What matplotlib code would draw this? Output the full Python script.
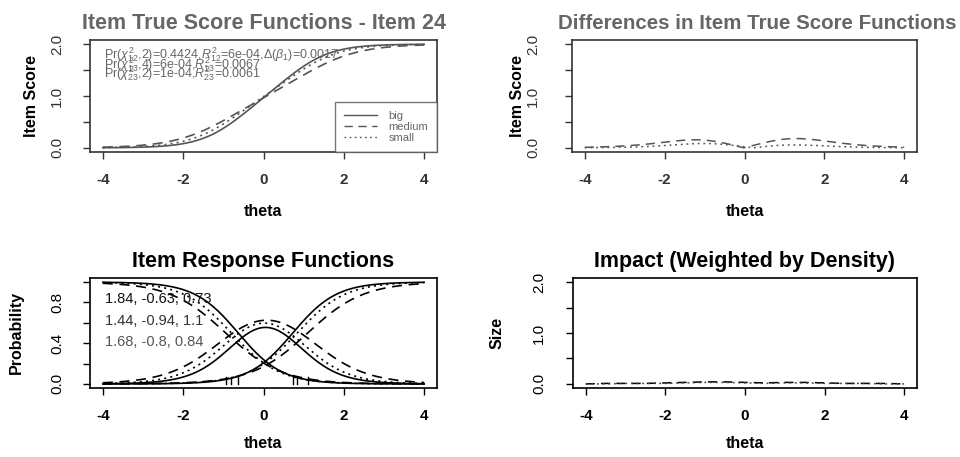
import numpy as np
import matplotlib
matplotlib.use("Agg")
import matplotlib.pyplot as plt

plt.rcParams['font.family'] = ['Liberation Sans', 'DejaVu Sans']
plt.rcParams['mathtext.fontset'] = 'custom'
plt.rcParams['mathtext.rm'] = 'Liberation Sans'
plt.rcParams['mathtext.it'] = 'Liberation Sans:italic'

# Graded response model parameters per group: slope, threshold 1, threshold 2
groups = ["big", "medium", "small"]
slopes = [1.84, 1.44, 1.68]
thresh1 = [-0.63, -0.94, -0.80]
thresh2 = [0.73, 1.10, 0.84]
param_labels = ["1.84, -0.63, 0.73", "1.44, -0.94, 1.1", "1.68, -0.8, 0.84"]

stat_lines = [
    r"Pr($\chi^2_{12}$,2)=0.4424,$R^2_{12}$=6e-04,$\Delta(\beta_1)$=0.0017",
    r"Pr($\chi^2_{13}$,4)=6e-04,$R^2_{13}$=0.0067",
    r"Pr($\chi^2_{23}$,2)=1e-04,$R^2_{23}$=0.0061",
]

# Impact (difference weighted by group density), medium and small vs big
impact_theta = [-4, -3.5, -3, -2.5, -2, -1.5, -1, -0.5, 0, 0.5, 1, 1.5, 2, 2.5, 3, 3.5, 4]
impact_medium = [0.00, 0.01, 0.01, 0.01, 0.02, 0.03, 0.04, 0.04, 0.03, 0.02, 0.03, 0.03, 0.02, 0.01, 0.01, 0.01, 0.00]
impact_small = [0.00, 0.00, 0.01, 0.01, 0.01, 0.02, 0.03, 0.03, 0.02, 0.01, 0.02, 0.02, 0.01, 0.01, 0.01, 0.00, 0.00]

theta = np.linspace(-4, 4, 401)
styles = ["-", (0, (6, 4)), (0, (1.2, 2.5))]


def cum_prob(a, b):
    return 1.0 / (1.0 + np.exp(-a * (theta - b)))


cats = []
true_scores = []
for a, b1, b2 in zip(slopes, thresh1, thresh2):
    p1 = cum_prob(a, b1)
    p2 = cum_prob(a, b2)
    cats.append((1 - p1, p1 - p2, p2))
    true_scores.append(p1 + p2)

W, H = 960, 457
PX2PT = 72 / 100
fig = plt.figure(figsize=(W / 100, H / 100), dpi=100)


def add_axes(l, t, r, b):
    return fig.add_axes([l / W, 1 - b / H, (r - l) / W, (b - t) / H])


def style_axes(ax, box, ylim, yticks, ylabels, ylabel, ylabel_x, ytick_x, xlabel_y, color="black"):
    l, t, r, b = box
    tick_len = 7
    ax.set_xlim(-4.32, 4.32)
    ax.set_ylim(*ylim)
    ax.set_xticks([-4, -2, 0, 2, 4])
    ax.set_xticklabels(["-4", "-2", "0", "2", "4"], fontsize=11, fontweight="bold")
    ax.set_yticks(yticks)
    ax.set_yticklabels(ylabels, fontsize=11, rotation=90, va="center", ha="center", color=color)
    ax.tick_params(axis="x", direction="out", length=tick_len * PX2PT, width=1.0, colors=color,
                   pad=14 * PX2PT)
    ax.tick_params(axis="y", direction="out", length=tick_len * PX2PT, width=1.0, colors=color,
                   pad=((l - ytick_x) - tick_len) * PX2PT)
    for s in ax.spines.values():
        s.set_linewidth(1.2)
        s.set_color(color)
    ax.set_xlabel("theta", fontsize=11.5, fontweight="bold", va="center")
    ax.xaxis.set_label_coords(0.5, -(xlabel_y - b) / (b - t))
    ax.set_ylabel(ylabel, fontsize=11.5, fontweight="bold", va="center")
    ax.yaxis.set_label_coords(-(l - ylabel_x) / (r - l), 0.5)


gray = "#555555"

# Item true score functions
box1 = (90, 40, 437, 152)
ax1 = add_axes(*box1)
for ts, ls in zip(true_scores, styles):
    ax1.plot(theta, ts, color=gray, lw=1.2, linestyle=ls)
style_axes(ax1, box1, (-0.08, 2.08), [0, 0.5, 1, 1.5, 2], ["0.0", "", "1.0", "", "2.0"],
           "Item Score", 32, 57, 212, color="#333333")
ax1.set_title("Item True Score Functions - Item 24", fontsize=15.5, fontweight="bold", color="#666666", pad=8)
ax1.text(-3.97, 1.97, "\n".join(stat_lines), fontsize=9, color="#666666", va="top",
         linespacing=0.3)
leg = ax1.legend([plt.Line2D([], [], color=gray, lw=1.0, linestyle=ls) for ls in styles], groups,
                 loc="lower right", fontsize=8, frameon=True, fancybox=False,
                 borderaxespad=0.0, handlelength=3.0, labelspacing=0.1, borderpad=0.8,
                 handletextpad=1.0, edgecolor="#555555", labelcolor="#666666")
leg.get_frame().set_linewidth(1.0)

# Differences in item true score functions
box2 = (572, 40, 917, 152)
ax2 = add_axes(*box2)
for ts, ls in zip(true_scores[1:], styles[1:]):
    ax2.plot(theta, np.abs(ts - true_scores[0]), color=gray, lw=1.1, linestyle=ls)
style_axes(ax2, box2, (-0.08, 2.08), [0, 0.5, 1, 1.5, 2], ["0.0", "", "1.0", "", "2.0"],
           "Item Score", 517, 533, 212, color="#333333")
ax2.set_title("Differences in Item True Score Functions", fontsize=14.8, fontweight="bold",
              color="#666666", pad=8, x=(757 - 572) / (917 - 572))

# Item response functions
box3 = (90, 278, 437, 388)
ax3 = add_axes(*box3)
for (c1, c2, c3), ls in zip(cats, styles):
    for c in (c1, c2, c3):
        ax3.plot(theta, c, color="black", lw=1.2, linestyle=ls)
for b in thresh1 + thresh2:
    ax3.plot([b, b], [0, 0.07], color="black", lw=1.0)
style_axes(ax3, box3, (-0.04, 1.04), [0, 0.2, 0.4, 0.6, 0.8, 1.0], ["0.0", "", "0.4", "", "0.8", ""],
           "Probability", 16, 57, 443)
ax3.set_title("Item Response Functions", fontsize=15.5, fontweight="bold", pad=8)
label_colors = ["#111111", "#333333", "#555555"]
for i, (lab, col) in enumerate(zip(param_labels, label_colors)):
    ax3.text(-3.95, 0.83 - i * 0.21, lab, fontsize=10.5, color=col, va="center")

# Impact weighted by density
box4 = (573, 278, 917, 388)
ax4 = add_axes(*box4)
ax4.plot(impact_theta, impact_medium, color="black", lw=1.1, linestyle=styles[1])
ax4.plot(impact_theta, impact_small, color="#444444", lw=1.1, linestyle=styles[2])
style_axes(ax4, box4, (-0.08, 2.08), [0, 0.5, 1, 1.5, 2], ["0.0", "", "1.0", "", "2.0"],
           "Size", 497, 539, 443)
ax4.set_title("Impact (Weighted by Density)", fontsize=15.5, fontweight="bold", pad=8)

fig.savefig("out.png", dpi=100)
